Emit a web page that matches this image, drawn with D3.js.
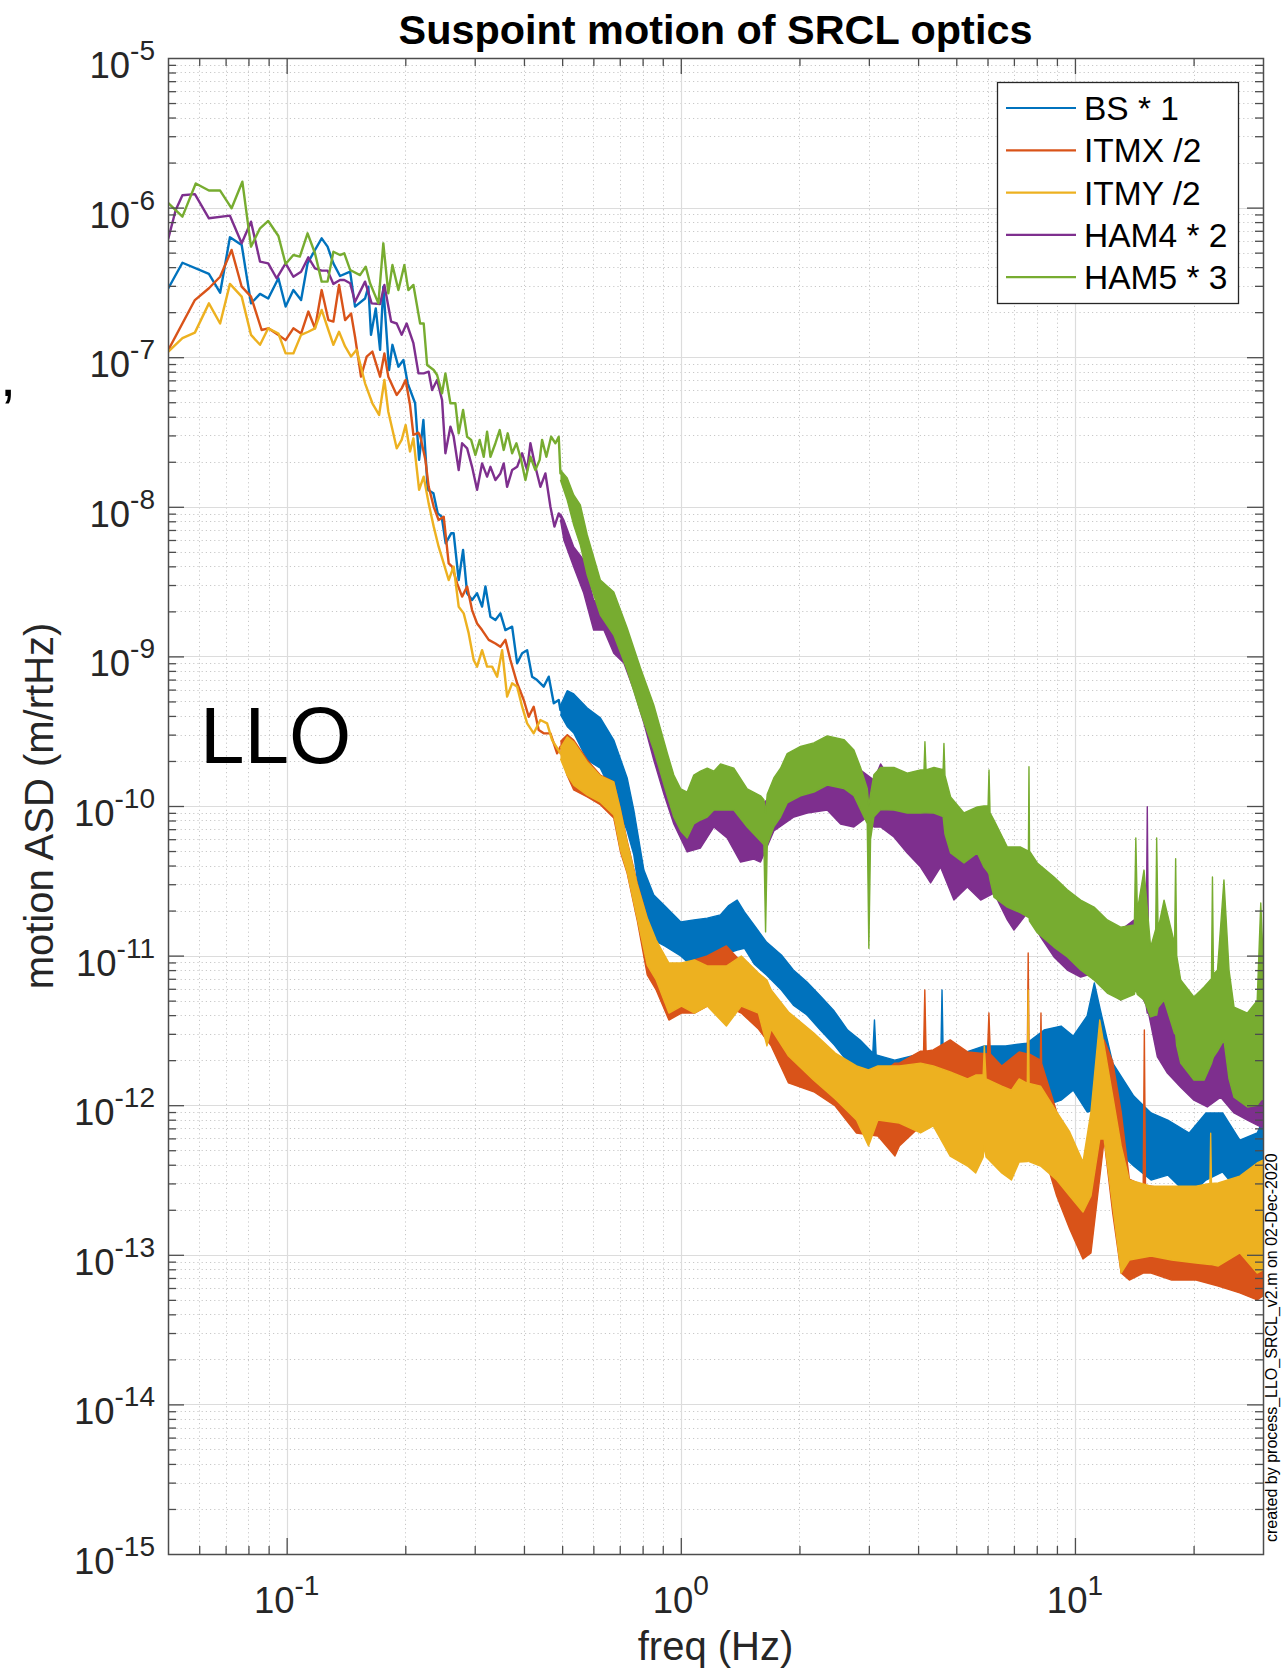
<!DOCTYPE html>
<html>
<head>
<meta charset="utf-8">
<title>Suspoint motion of SRCL optics</title>
<script src="https://cdn.jsdelivr.net/npm/d3@7/dist/d3.min.js"></script>
<style>
  html, body { margin: 0; padding: 0; background: #ffffff; }
  svg { display: block; }
  text { font-family: "Liberation Sans", Arial, Helvetica, sans-serif; }
</style>
</head>
<body>
<svg id="chart" width="1285" height="1674"></svg>
<script>
// ---------------- data ----------------
const freqDomain = [0.05, 30];       // Hz
const asdDomain = [1e-15, 1e-5];     // m/rtHz
const xDecadeTicks = [0.1, 1, 10];
const yDecadeTicks = [1e-15, 1e-14, 1e-13, 1e-12, 1e-11, 1e-10, 1e-9, 1e-8, 1e-7, 1e-6, 1e-5];
const seriesLabels = ["BS * 1", "ITMX /2", "ITMY /2", "HAM4 * 2", "HAM5 * 3"];

// resolved low-frequency bins: [freq Hz, ASD]
const bsTrace = [[0.0501,2.89e-7],[0.0544,4.28e-7],[0.0635,3.60e-7],[0.0678,2.70e-7],[0.0718,6.33e-7],[0.0769,5.62e-7],[0.0812,2.29e-7],[0.0856,2.65e-7],[0.0898,2.47e-7],[0.0953,3.37e-7],[0.0994,2.18e-7],[0.104,2.81e-7],[0.1088,2.41e-7],[0.113,4.24e-7],[0.118,5.21e-7],[0.1227,6.23e-7],[0.127,5.48e-7],[0.1314,4.24e-7],[0.1366,3.49e-7],[0.1449,3.73e-7],[0.1491,2.18e-7],[0.1581,2.47e-7],[0.1612,2.96e-7],[0.1637,1.41e-7],[0.1683,2.12e-7],[0.1726,1.12e-7],[0.1759,2.96e-7],[0.1819,8.21e-8],[0.1855,1.21e-7],[0.1921,8.64e-8],[0.1978,9.58e-8],[0.2028,6.69e-8],[0.2118,4.92e-8],[0.2168,2.06e-8],[0.2223,3.80e-8],[0.228,1.30e-8],[0.2357,1.23e-8],[0.2417,9.04e-9],[0.2474,8.59e-9],[0.2532,5.70e-9],[0.2614,6.65e-9],[0.2653,6.65e-9],[0.2732,3.24e-9],[0.2803,5.14e-9],[0.287,2.64e-9],[0.2954,2.38e-9],[0.3042,2.64e-9],[0.3132,2.15e-9],[0.3194,2.93e-9],[0.3289,1.84e-9],[0.3386,1.75e-9],[0.3486,1.94e-9],[0.3589,1.50e-9],[0.3733,1.58e-9],[0.3844,8.99e-10],[0.3958,1.05e-9],[0.4075,1.10e-9],[0.4195,7.32e-10],[0.4319,6.95e-10],[0.4489,6.28e-10],[0.4623,7.32e-10],[0.4761,4.86e-10],[0.4901,5.11e-10],[0.495,4.38e-10]];

const itmxTrace = [[0.0501,1.12e-7],[0.0585,2.41e-7],[0.0635,2.89e-7],[0.0678,3.45e-7],[0.0725,5.21e-7],[0.0769,2.96e-7],[0.0812,2.54e-7],[0.0864,1.52e-7],[0.0898,1.56e-7],[0.0953,1.41e-7],[0.0994,1.30e-7],[0.104,1.56e-7],[0.1088,1.44e-7],[0.1135,2.02e-7],[0.118,1.56e-7],[0.1227,2.81e-7],[0.1276,1.77e-7],[0.1314,1.73e-7],[0.1358,3.04e-7],[0.1407,1.77e-7],[0.1457,1.96e-7],[0.1491,1.37e-7],[0.1544,7.41e-8],[0.1596,1.01e-7],[0.165,1.09e-7],[0.1726,7.41e-8],[0.177,1.06e-7],[0.1811,7.41e-8],[0.1902,5.59e-8],[0.1958,6.19e-8],[0.2004,7.04e-8],[0.2056,4.79e-8],[0.2097,3.02e-8],[0.216,3.13e-8],[0.2184,2.94e-8],[0.2249,2.06e-8],[0.2293,1.36e-8],[0.2361,1.00e-8],[0.243,8.16e-9],[0.2503,8.59e-9],[0.2577,4.19e-9],[0.2629,3.98e-9],[0.2707,3.08e-9],[0.2787,2.51e-9],[0.287,2.93e-9],[0.2954,2.04e-9],[0.3042,1.66e-9],[0.3132,1.50e-9],[0.3256,1.29e-9],[0.3386,1.22e-9],[0.3486,1.16e-9],[0.3589,1.29e-9],[0.3696,9.46e-10],[0.3844,6.61e-10],[0.3995,5.11e-10],[0.4113,3.95e-10],[0.4234,4.61e-10],[0.436,3.22e-10],[0.4489,3.06e-10],[0.4669,3.06e-10],[0.4856,2.25e-10],[0.495,2.49e-10]];

const itmyTrace = [[0.0501,1.09e-7],[0.0544,1.34e-7],[0.0585,1.46e-7],[0.0635,2.29e-7],[0.0678,1.68e-7],[0.0718,3.09e-7],[0.0769,2.54e-7],[0.0812,1.41e-7],[0.0856,1.21e-7],[0.0898,1.56e-7],[0.0953,1.44e-7],[0.0994,1.06e-7],[0.104,1.06e-7],[0.1088,1.41e-7],[0.1135,1.48e-7],[0.118,1.56e-7],[0.1227,2.07e-7],[0.1276,1.52e-7],[0.1314,1.21e-7],[0.1358,1.48e-7],[0.1407,1.18e-7],[0.1457,1.01e-7],[0.1505,1.12e-7],[0.1581,6.69e-8],[0.165,4.92e-8],[0.1716,4.11e-8],[0.177,7.04e-8],[0.1811,4.32e-8],[0.1902,2.46e-8],[0.1958,2.80e-8],[0.2004,3.52e-8],[0.2056,2.34e-8],[0.2097,2.87e-8],[0.2168,1.30e-8],[0.2227,1.59e-8],[0.2293,1.05e-8],[0.2361,7.37e-9],[0.243,5.41e-9],[0.2503,4.19e-9],[0.2577,3.24e-9],[0.2653,3.98e-9],[0.2732,2.15e-9],[0.2813,1.94e-9],[0.2896,1.43e-9],[0.2982,9.46e-10],[0.3042,8.54e-10],[0.3132,1.10e-9],[0.3225,8.54e-10],[0.3321,8.54e-10],[0.342,7.32e-10],[0.3521,1.10e-9],[0.3625,5.38e-10],[0.3733,6.61e-10],[0.3844,6.28e-10],[0.3958,4.61e-10],[0.4075,3.57e-10],[0.4234,3.06e-10],[0.4403,3.76e-10],[0.4579,3.57e-10],[0.4716,2.76e-10],[0.495,2.25e-10]];

const ham4Trace = [[0.0501,6.23e-7],[0.0523,9.64e-7],[0.0544,1.21e-6],[0.0585,1.23e-6],[0.0635,8.48e-7],[0.0718,8.83e-7],[0.0769,5.77e-7],[0.0812,8.05e-7],[0.0856,4.35e-7],[0.0898,4.24e-7],[0.0943,3.37e-7],[0.0994,4.24e-7],[0.104,3.45e-7],[0.1088,3.73e-7],[0.1135,4.65e-7],[0.118,3.93e-7],[0.1227,3.79e-7],[0.127,3.79e-7],[0.1314,3.09e-7],[0.1366,3.28e-7],[0.140,3.28e-7],[0.1449,3.12e-7],[0.1491,2.35e-7],[0.1581,3.20e-7],[0.1643,2.29e-7],[0.1726,2.27e-7],[0.177,3.04e-7],[0.1841,1.73e-7],[0.1902,1.68e-7],[0.1958,1.41e-7],[0.2016,1.68e-7],[0.2097,1.24e-7],[0.216,7.80e-8],[0.2227,7.80e-8],[0.2293,8.00e-8],[0.2339,6.04e-8],[0.2408,7.04e-8],[0.2479,5.18e-8],[0.2528,2.28e-8],[0.2603,3.43e-8],[0.2653,2.94e-8],[0.2732,1.76e-8],[0.2787,2.66e-8],[0.287,2.46e-8],[0.2954,1.85e-8],[0.3042,1.30e-8],[0.3132,1.95e-8],[0.3225,1.59e-8],[0.3289,1.85e-8],[0.3386,1.51e-8],[0.3486,1.67e-8],[0.3554,1.95e-8],[0.3625,1.36e-8],[0.3733,1.76e-8],[0.3844,1.85e-8],[0.3958,2.28e-8],[0.4075,1.76e-8],[0.4154,2.66e-8],[0.4276,1.85e-8],[0.4403,1.36e-8],[0.4534,1.67e-8],[0.4669,1.00e-8],[0.478,7.37e-9],[0.4901,9.04e-9],[0.495,8.59e-9]];

const ham5Trace = [[0.0501,1.07e-6],[0.0544,8.70e-7],[0.0588,1.45e-6],[0.0635,1.30e-6],[0.0678,1.30e-6],[0.0725,9.89e-7],[0.0772,1.49e-6],[0.0812,5.48e-7],[0.0856,7.27e-7],[0.0898,8.14e-7],[0.0953,6.46e-7],[0.0994,4.20e-7],[0.104,4.82e-7],[0.108,4.70e-7],[0.113,6.73e-7],[0.118,4.95e-7],[0.1227,3.20e-7],[0.127,3.20e-7],[0.1314,5.07e-7],[0.1366,4.82e-7],[0.140,4.95e-7],[0.1449,3.83e-7],[0.1535,3.54e-7],[0.1587,4.03e-7],[0.1628,3.12e-7],[0.1709,2.29e-7],[0.1759,5.77e-7],[0.1811,2.67e-7],[0.1855,4.13e-7],[0.1921,2.81e-7],[0.1989,4.13e-7],[0.2036,2.81e-7],[0.2097,3.04e-7],[0.2181,1.68e-7],[0.2227,1.68e-7],[0.2272,8.87e-8],[0.2361,8.21e-8],[0.2408,7.60e-8],[0.2479,5.73e-8],[0.2528,7.80e-8],[0.2603,4.92e-8],[0.268,4.92e-8],[0.2732,3.10e-8],[0.2803,4.44e-8],[0.287,2.94e-8],[0.2938,2.80e-8],[0.3012,2.22e-8],[0.3089,2.80e-8],[0.3162,2.16e-8],[0.3225,3.18e-8],[0.3289,2.16e-8],[0.3386,2.66e-8],[0.3472,3.26e-8],[0.3554,2.40e-8],[0.3638,3.10e-8],[0.3733,2.28e-8],[0.3828,2.66e-8],[0.3934,2.06e-8],[0.4035,1.51e-8],[0.4154,2.16e-8],[0.4276,1.76e-8],[0.4385,2.06e-8],[0.4447,2.80e-8],[0.456,2.16e-8],[0.4688,2.94e-8],[0.4808,2.66e-8],[0.4901,2.94e-8],[0.495,1.67e-8]];

// dense spectrum above 0.5 Hz: [freq Hz, upper ASD, lower ASD]
const bsBand = [[0.495,4.7e-10,4.1e-10],[0.515,5.9e-10,3.4e-10],[0.535,5.61e-10,3.08e-10],[0.579,4.52e-10,2.03e-10],[0.625,3.88e-10,1.79e-10],[0.676,2.76e-10,1.17e-10],[0.731,1.54e-10,6.81e-11],[0.760,9.40e-11,4.71e-11],[0.806,3.73e-11,1.60e-11],[0.854,2.54e-11,1.27e-11],[0.91,2.15e-11,1.16e-11],[1.0,1.68e-11,9.94e-12],[1.08,1.73e-11,8.26e-12],[1.167,1.78e-11,9.35e-12],[1.26,1.87e-11,1.01e-11],[1.32,2.15e-11,1.04e-11],[1.39,2.35e-11,1.09e-11],[1.45,1.96e-11,1.12e-11],[1.535,1.60e-11,8.79e-12],[1.65,1.23e-11,7.42e-12],[1.80,1.01e-11,5.89e-12],[1.93,8.01e-12,4.67e-12],[2.09,6.66e-12,4.01e-12],[2.26,5.37e-12,3.18e-12],[2.45,4.26e-12,2.53e-12],[2.65,3.18e-12,1.95e-12],[2.85,2.73e-12,1.67e-12],[3.07,2.23e-12,1.41e-12],[3.10,3.71e-12,1.41e-12],[3.13,2.17e-12,1.41e-12],[3.49,2.00e-12,1.30e-12],[3.95,2.17e-12,1.26e-12],[4.57,2.27e-12,1.30e-12],[4.60,5.89e-12,1.30e-12],[4.63,2.27e-12,1.36e-12],[5.2,2.23e-12,1.21e-12],[5.89,2.49e-12,1.30e-12],[6.67,2.49e-12,1.36e-12],[7.56,2.60e-12,1.26e-12],[8.35,3.18e-12,9.88e-13],[9.22,3.38e-12,1.08e-12],[9.9,2.90e-12,1.26e-12],[10.74,3.95e-12,9.01e-13],[11.2,6.56e-12,9.29e-13],[11.6,4.33e-12,7.96e-13],[12.47,1.91e-12,5.34e-13],[14.1,1.15e-12,3.92e-13],[15.6,8.87e-13,3.16e-13],[17.2,7.96e-13,3.41e-13],[19.5,6.52e-13,2.47e-13],[21.5,8.87e-13,3.16e-13],[23.7,8.87e-13,3.58e-13],[26.2,5.85e-13,2.59e-13],[29.0,6.52e-13,3.16e-13],[30,7.96e-13,3.16e-13]];

const itmxBand = [[0.495,2.7e-10,2.3e-10],[0.515,3.0e-10,1.6e-10],[0.535,2.76e-10,1.28e-10],[0.579,2.03e-10,1.15e-10],[0.625,1.61e-10,1.02e-10],[0.676,1.45e-10,8.32e-11],[0.703,9.40e-11,4.93e-11],[0.731,5.83e-11,3.56e-11],[0.775,3.06e-11,1.73e-11],[0.822,1.78e-11,7.42e-12],[0.866,1.14e-11,5.89e-12],[0.933,8.52e-12,3.71e-12],[1.004,8.52e-12,4.13e-12],[1.083,9.35e-12,4.13e-12],[1.167,9.94e-12,4.60e-12],[1.305,1.16e-11,4.60e-12],[1.424,9.06e-12,4.13e-12],[1.574,6.98e-12,3.23e-12],[1.696,5.37e-12,2.49e-12],[1.876,3.95e-12,1.41e-12],[2.175,2.73e-12,1.23e-12],[2.465,2.04e-12,9.88e-13],[2.791,1.64e-12,6.52e-13],[3.163,1.57e-12,6.22e-13],[3.494,1.91e-12,4.57e-13],[3.585,1.91e-12,5.34e-13],[4.058,2.30e-12,7.26e-13],[4.13,2.30e-12,7.26e-13],[4.16,5.89e-12,7.26e-13],[4.19,2.30e-12,7.26e-13],[4.37,2.34e-12,7.96e-13],[4.825,2.73e-12,7.96e-13],[5.34,2.27e-12,6.52e-13],[6.0,2.20e-12,7.00e-13],[6.05,4.13e-12,8.87e-13],[6.1,2.20e-12,7.00e-13],[6.52,1.83e-12,5.94e-13],[7.22,2.27e-12,5.34e-13],[7.57,2.20e-12,5.34e-13],[7.61,1.04e-11,5.34e-13],[7.65,2.20e-12,5.34e-13],[8.17,2.00e-12,5.34e-13],[8.2,4.13e-12,5.34e-13],[8.23,1.90e-12,5.34e-13],[8.99,9.01e-13,2.47e-13],[9.7,5.94e-13,1.49e-13],[10.48,3.21e-13,9.37e-14],[10.98,5.34e-13,1.03e-13],[11.86,2.73e-12,5.85e-13],[12.47,1.95e-12,1.90e-13],[13.1,9.01e-13,7.55e-14],[13.74,3.21e-13,6.78e-14],[14.9,2.90e-13,7.55e-14],[15.0,3.18e-12,7.55e-14],[15.1,2.90e-13,7.55e-14],[15.6,2.88e-13,7.55e-14],[17.6,2.75e-13,6.78e-14],[20.3,2.59e-13,6.78e-14],[23.1,2.47e-13,6.19e-14],[26.2,2.47e-13,5.56e-14],[29.0,3.21e-13,4.99e-14],[30,3.69e-13,5.31e-14]];

const itmyBand = [[0.495,2.45e-10,2.07e-10],[0.515,2.9e-10,1.6e-10],[0.535,2.68e-10,1.38e-10],[0.579,1.97e-10,1.18e-10],[0.625,1.59e-10,1.06e-10],[0.676,1.45e-10,8.71e-11],[0.703,9.40e-11,5.08e-11],[0.731,5.74e-11,3.62e-11],[0.775,3.01e-11,1.78e-11],[0.822,1.78e-11,8.65e-12],[0.866,1.27e-11,6.87e-12],[0.933,8.92e-12,4.13e-12],[1.004,8.92e-12,4.60e-12],[1.083,9.35e-12,4.13e-12],[1.167,8.52e-12,4.60e-12],[1.305,8.52e-12,3.38e-12],[1.424,9.94e-12,4.60e-12],[1.574,7.65e-12,4.13e-12],[1.654,6.87e-12,2.49e-12],[1.696,5.89e-12,3.23e-12],[1.876,4.20e-12,2.13e-12],[2.175,3.04e-12,1.47e-12],[2.465,2.23e-12,1.10e-12],[2.791,1.83e-12,7.96e-13],[2.994,1.72e-12,5.34e-13],[3.163,1.83e-12,7.96e-13],[3.585,1.83e-12,7.60e-13],[4.058,1.91e-12,6.52e-13],[4.37,1.83e-12,7.26e-13],[4.825,1.67e-12,4.57e-13],[5.34,1.50e-12,3.92e-13],[5.6,1.59e-12,3.52e-13],[5.85,1.60e-12,4.50e-13],[5.89,2.49e-12,5.34e-13],[5.95,1.50e-12,4.50e-13],[6.52,1.34e-12,3.52e-13],[6.9,1.26e-12,3.16e-13],[7.22,1.50e-12,4.17e-13],[7.57,1.40e-12,4.20e-13],[7.61,5.89e-12,4.30e-13],[7.65,1.40e-12,4.20e-13],[8.18,1.34e-12,3.92e-13],[8.99,9.01e-13,3.16e-13],[9.7,6.62e-13,2.47e-13],[10.48,4.17e-13,1.93e-13],[10.98,9.01e-13,2.47e-13],[11.56,3.71e-12,5.94e-13],[11.86,2.49e-12,5.94e-13],[12.47,1.15e-12,2.12e-13],[13.1,5.34e-13,7.55e-14],[13.74,3.16e-13,9.23e-14],[15.6,2.88e-13,9.82e-14],[17.6,2.88e-13,9.23e-14],[20.3,2.88e-13,8.82e-14],[22.0,3.00e-13,8.60e-14],[22.1,6.50e-13,8.60e-14],[22.2,3.00e-13,8.60e-14],[23.1,3.02e-13,8.42e-14],[26.2,3.36e-13,1.03e-13],[29.0,4.11e-13,7.55e-14],[30,4.30e-13,7.91e-14]];

const ham4Band = [[0.495,9.0e-9,8.2e-9],[0.505,8.16e-9,6.00e-9],[0.535,5.39e-9,3.96e-9],[0.567,4.41e-9,2.65e-9],[0.601,2.38e-9,1.50e-9],[0.638,2.14e-9,1.50e-9],[0.676,1.43e-9,1.05e-9],[0.717,1.16e-9,9.03e-10],[0.760,8.49e-10,5.96e-10],[0.806,6.25e-10,3.59e-10],[0.854,3.76e-10,2.03e-10],[0.906,2.48e-10,1.20e-10],[0.960,1.28e-10,7.58e-11],[1.038,1.10e-10,4.93e-11],[1.122,1.28e-10,5.24e-11],[1.213,1.38e-10,7.24e-11],[1.311,1.38e-10,6.11e-11],[1.418,1.18e-10,4.22e-11],[1.532,1.10e-10,4.42e-11],[1.593,1.02e-10,4.22e-11],[1.722,1.18e-10,6.81e-11],[1.936,1.61e-10,8.44e-11],[2.093,1.88e-10,8.98e-11],[2.352,2.03e-10,9.40e-11],[2.543,2.03e-10,7.58e-11],[2.749,1.88e-10,7.24e-11],[2.972,1.61e-10,8.44e-11],[3.09,1.49e-10,7.24e-11],[3.213,1.91e-10,7.24e-11],[3.473,1.38e-10,6.21e-11],[3.755,1.28e-10,4.85e-11],[4.058,1.28e-10,3.91e-11],[4.303,1.10e-10,3.06e-11],[4.56,1.28e-10,3.91e-11],[4.931,8.06e-11,2.35e-11],[5.333,7.46e-11,2.87e-11],[5.765,6.91e-11,2.35e-11],[6.23,6.40e-11,2.62e-11],[6.737,4.71e-11,1.73e-11],[7.003,4.36e-11,1.48e-11],[7.572,4.36e-11,1.93e-11],[8.185,3.73e-11,1.33e-11],[8.847,2.96e-11,9.79e-12],[9.565,2.54e-11,8.01e-12],[10.34,2.18e-11,7.19e-12],[11.18,2.02e-11,7.65e-12],[12.08,1.60e-11,5.89e-12],[13.06,1.48e-11,5.05e-12],[14.12,1.73e-11,6.87e-12],[15.15,9.35e-12,4.67e-12],[15.26,9.89e-11,4.13e-12],[15.37,9.35e-12,4.13e-12],[16.19,9.35e-12,2.10e-12],[17.16,6.87e-12,1.64e-12],[18.55,5.89e-12,1.32e-12],[20.04,5.05e-12,1.08e-12],[21.67,4.33e-12,9.73e-13],[23.43,5.05e-12,1.13e-12],[25.33,3.18e-12,8.87e-13],[27.39,2.73e-12,7.96e-13],[29.61,2.34e-12,7.15e-13],[30,2.34e-12,7.15e-13]];

const ham5Band = [[0.495,1.76e-8,1.51e-8],[0.515,1.56e-8,1.11e-8],[0.535,1.20e-8,7.55e-9],[0.556,1.03e-8,5.55e-9],[0.579,6.48e-9,3.50e-9],[0.625,3.24e-9,1.89e-9],[0.676,2.69e-9,1.39e-9],[0.731,1.55e-9,8.11e-10],[0.790,8.37e-10,4.25e-10],[0.854,4.73e-10,2.37e-10],[0.924,2.26e-10,1.17e-10],[0.960,1.61e-10,8.44e-11],[1.0,1.30e-10,6.81e-11],[1.038,1.24e-10,6.11e-11],[1.079,1.61e-10,7.58e-11],[1.122,1.71e-10,8.06e-11],[1.167,1.79e-10,8.44e-11],[1.213,1.71e-10,9.40e-11],[1.261,1.91e-10,9.40e-11],[1.363,1.79e-10,9.40e-11],[1.474,1.30e-10,7.24e-11],[1.593,1.17e-10,5.83e-11],[1.625,1.10e-10,5.50e-11],[1.641,9.00e-11,1.44e-11],[1.657,1.20e-10,5.50e-11],[1.722,1.54e-10,7.24e-11],[1.791,1.79e-10,8.44e-11],[1.862,2.24e-10,1.05e-10],[2.013,2.50e-10,1.17e-10],[2.176,2.64e-10,1.24e-10],[2.352,2.94e-10,1.38e-10],[2.593,2.78e-10,1.31e-10],[2.749,2.37e-10,1.17e-10],[2.858,1.81e-10,9.46e-11],[2.972,1.31e-10,7.62e-11],[3.00,1.00e-10,1.12e-11],[3.03,1.20e-10,6.00e-11],[3.09,1.62e-10,8.48e-11],[3.213,1.81e-10,9.46e-11],[3.473,1.81e-10,9.40e-11],[3.755,1.66e-10,8.98e-11],[4.058,1.74e-10,8.98e-11],[4.14,1.74e-10,9.00e-11],[4.163,2.69e-10,9.00e-11],[4.19,1.74e-10,9.00e-11],[4.388,1.81e-10,8.98e-11],[4.63,1.75e-10,8.50e-11],[4.652,2.62e-10,7.50e-11],[4.68,1.60e-10,6.50e-11],[4.837,1.15e-10,4.85e-11],[5.229,8.98e-11,4.16e-11],[5.653,9.85e-11,4.85e-11],[5.878,1.00e-10,3.90e-11],[6.02,1.00e-10,3.60e-11],[6.053,1.74e-10,3.50e-11],[6.09,9.00e-11,3.20e-11],[6.23,8.06e-11,2.46e-11],[6.737,5.32e-11,2.11e-11],[7.282,5.32e-11,1.93e-11],[7.62,5.00e-11,1.80e-11],[7.645,1.83e-10,1.80e-11],[7.67,5.00e-11,1.70e-11],[8.025,4.16e-11,1.42e-11],[8.847,3.35e-11,1.14e-11],[9.565,2.75e-11,9.79e-12],[10.34,2.35e-11,8.01e-12],[11.18,2.11e-11,6.87e-12],[12.08,1.73e-11,5.62e-12],[13.06,1.55e-11,5.05e-12],[14.15,1.60e-11,5.50e-12],[14.27,6.11e-11,6.00e-12],[14.4,2.00e-11,5.50e-12],[14.97,3.73e-11,5.05e-12],[15.56,1.14e-11,3.89e-12],[16.03,1.50e-11,4.00e-12],[16.12,6.11e-11,4.00e-12],[16.25,1.50e-11,4.50e-12],[16.83,2.35e-11,5.05e-12],[17.9,1.20e-11,3.00e-12],[18.01,4.44e-11,3.00e-12],[18.12,1.00e-11,2.50e-12],[18.55,6.87e-12,1.91e-12],[20.04,5.29e-12,1.47e-12],[21.26,6.17e-12,1.47e-12],[22.2,7.00e-12,1.90e-12],[22.33,3.35e-11,2.00e-12],[22.46,7.50e-12,2.10e-12],[23.0,8.00e-12,2.30e-12],[23.88,3.20e-11,2.73e-12],[24.6,8.00e-12,1.50e-12],[25.33,4.53e-12,1.13e-12],[27.39,4.13e-12,9.73e-13],[29.0,5.00e-12,1.00e-12],[29.61,2.25e-11,1.08e-12],[30,1.00e-11,1.10e-12]];

// ---------------- layout & style ----------------
const W = 1285, H = 1674;
const plot = { left: 168, right: 1263, top: 58, bottom: 1554 };
const seriesColors = ["#0072BD", "#D95319", "#EDB120", "#7E2F8E", "#77AC30"];
const axisColor = "#262626";
const frameColor = "#4d4d4d";

const series = [
  { label: seriesLabels[0], trace: bsTrace,   band: bsBand,   color: seriesColors[0] },
  { label: seriesLabels[1], trace: itmxTrace, band: itmxBand, color: seriesColors[1] },
  { label: seriesLabels[2], trace: itmyTrace, band: itmyBand, color: seriesColors[2] },
  { label: seriesLabels[3], trace: ham4Trace, band: ham4Band, color: seriesColors[3] },
  { label: seriesLabels[4], trace: ham5Trace, band: ham5Band, color: seriesColors[4] }
];

const svg = d3.select("#chart");
svg.append("rect").attr("width", W).attr("height", H).attr("fill", "#ffffff");

const x = d3.scaleLog().domain(freqDomain).range([plot.left, plot.right]);
const y = d3.scaleLog().domain(asdDomain).range([plot.bottom, plot.top]);

// sub-decade tick positions 2..9 within each decade of a domain
function minorTicks(domain) {
  const out = [];
  const lo = Math.floor(Math.log10(domain[0]) + 1e-9);
  const hi = Math.ceil(Math.log10(domain[1]) - 1e-9);
  for (let e = lo; e < hi; e++) {
    for (let k = 2; k <= 9; k++) {
      const v = k * Math.pow(10, e);
      if (v > domain[0] * 1.0001 && v < domain[1] * 0.9999) out.push(v);
    }
  }
  return out;
}
const xMinor = minorTicks(freqDomain);
const yMinor = minorTicks(asdDomain);
const yMajorInner = yDecadeTicks.filter(v => v > asdDomain[0] && v < asdDomain[1]);

// ---------------- grid ----------------
const grid = svg.append("g").attr("class", "grid");
const px = v => Math.round(v) + 0.5;
grid.selectAll("line.gx-minor").data(xMinor).join("line")
  .attr("x1", d => px(x(d))).attr("x2", d => px(x(d)))
  .attr("y1", plot.top).attr("y2", plot.bottom)
  .attr("stroke", "#c8c8c8").attr("stroke-width", 1).attr("stroke-dasharray", "1.2,3");
grid.selectAll("line.gy-minor").data(yMinor).join("line")
  .attr("y1", d => px(y(d))).attr("y2", d => px(y(d)))
  .attr("x1", plot.left).attr("x2", plot.right)
  .attr("stroke", "#c8c8c8").attr("stroke-width", 1).attr("stroke-dasharray", "1.2,3");
grid.selectAll("line.gx-major").data(xDecadeTicks).join("line")
  .attr("x1", d => px(x(d))).attr("x2", d => px(x(d)))
  .attr("y1", plot.top).attr("y2", plot.bottom)
  .attr("stroke", "#dcdcdc").attr("stroke-width", 1.2);
grid.selectAll("line.gy-major").data(yMajorInner).join("line")
  .attr("y1", d => px(y(d))).attr("y2", d => px(y(d)))
  .attr("x1", plot.left).attr("x2", plot.right)
  .attr("stroke", "#dcdcdc").attr("stroke-width", 1.2);

// ---------------- spectra ----------------
svg.append("clipPath").attr("id", "plot-clip")
  .append("rect")
  .attr("x", plot.left).attr("y", plot.top)
  .attr("width", plot.right - plot.left).attr("height", plot.bottom - plot.top);

const traceLine = d3.line().x(d => x(d[0])).y(d => y(d[1]));
const bandArea = d3.area().x(d => x(d[0])).y0(d => y(d[2])).y1(d => y(d[1]));
const bandTop = d3.line().x(d => x(d[0])).y(d => y(d[1]));
const bandBottom = d3.line().x(d => x(d[0])).y(d => y(d[2]));

const dataLayer = svg.append("g").attr("clip-path", "url(#plot-clip)");
series.forEach(s => {
  const g = dataLayer.append("g");
  g.append("path").datum(s.band).attr("d", bandArea)
    .attr("fill", s.color).attr("stroke", "none");
  g.append("path").datum(s.band).attr("d", bandTop)
    .attr("fill", "none").attr("stroke", s.color).attr("stroke-width", 1.4).attr("stroke-linejoin", "round");
  g.append("path").datum(s.band).attr("d", bandBottom)
    .attr("fill", "none").attr("stroke", s.color).attr("stroke-width", 1.4).attr("stroke-linejoin", "round");
  g.append("path").datum(s.trace).attr("d", traceLine)
    .attr("fill", "none").attr("stroke", s.color).attr("stroke-width", 2.4)
    .attr("stroke-linejoin", "round").attr("stroke-linecap", "round");
});

// ---------------- axes ----------------
function tickLayer(axis, transform) {
  const g = svg.append("g").attr("transform", transform).call(axis);
  g.select(".domain").remove();
  g.selectAll(".tick line").attr("stroke", frameColor).attr("stroke-width", 1.3);
  g.selectAll(".tick text").remove();
  return g;
}
const minorLen = -8, majorLen = -16;
tickLayer(d3.axisBottom(x).tickValues(xMinor).tickSize(minorLen).tickFormat(""), `translate(0,${plot.bottom})`);
tickLayer(d3.axisBottom(x).tickValues(xDecadeTicks).tickSize(majorLen).tickFormat(""), `translate(0,${plot.bottom})`);
tickLayer(d3.axisTop(x).tickValues(xMinor).tickSize(minorLen).tickFormat(""), `translate(0,${plot.top})`);
tickLayer(d3.axisTop(x).tickValues(xDecadeTicks).tickSize(majorLen).tickFormat(""), `translate(0,${plot.top})`);
tickLayer(d3.axisLeft(y).tickValues(yMinor).tickSize(minorLen).tickFormat(""), `translate(${plot.left},0)`);
tickLayer(d3.axisLeft(y).tickValues(yMajorInner).tickSize(majorLen).tickFormat(""), `translate(${plot.left},0)`);
tickLayer(d3.axisRight(y).tickValues(yMinor).tickSize(minorLen).tickFormat(""), `translate(${plot.right},0)`);
tickLayer(d3.axisRight(y).tickValues(yMajorInner).tickSize(majorLen).tickFormat(""), `translate(${plot.right},0)`);

svg.append("rect")
  .attr("x", plot.left + 0.5).attr("y", plot.top + 0.5)
  .attr("width", plot.right - plot.left).attr("height", plot.bottom - plot.top)
  .attr("fill", "none").attr("stroke", frameColor).attr("stroke-width", 1.5);

// power-of-ten tick labels
const exponent = v => String(Math.round(Math.log10(v)));
const yLabels = svg.append("g");
yDecadeTicks.forEach(v => {
  const t = yLabels.append("text")
    .attr("x", 155).attr("y", y(v) + 20)
    .attr("text-anchor", "end").attr("fill", axisColor).attr("font-size", 36.5);
  t.append("tspan").text("10");
  t.append("tspan").attr("dy", -18).attr("font-size", 28).text(exponent(v));
});
const xLabels = svg.append("g");
xDecadeTicks.forEach(v => {
  const t = xLabels.append("text")
    .attr("x", x(v)).attr("y", plot.bottom + 59)
    .attr("text-anchor", "middle").attr("fill", axisColor).attr("font-size", 36.5);
  t.append("tspan").text("10");
  t.append("tspan").attr("dy", -18).attr("font-size", 28).text(exponent(v));
});

// axis titles and headline
const midX = (plot.left + plot.right) / 2;
const midY = (plot.top + plot.bottom) / 2;
svg.append("text").attr("x", midX).attr("y", 44)
  .attr("text-anchor", "middle").attr("font-size", 41.4).attr("font-weight", "bold").attr("fill", "#000")
  .text("Suspoint motion of SRCL optics");
svg.append("text").attr("x", midX).attr("y", 1660)
  .attr("text-anchor", "middle").attr("font-size", 40).attr("fill", axisColor)
  .text("freq (Hz)");
svg.append("text").attr("transform", `translate(53,${midY}) rotate(-90)`)
  .attr("text-anchor", "middle").attr("font-size", 40).attr("fill", axisColor)
  .text("motion ASD (m/rtHz)");

// side stamp
svg.append("text").attr("transform", "translate(1277,1542) rotate(-90)")
  .attr("text-anchor", "start").attr("font-size", 16).attr("fill", "#000")
  .text("created by process_LLO_SRCL_v2.m on 02-Dec-2020");

// site tag
svg.append("text").attr("x", 200).attr("y", 763)
  .attr("font-family", "Lato, 'Open Sans', sans-serif").attr("font-size", 80).attr("fill", "#000")
  .text("LLO");
svg.append("text").attr("x", 0).attr("y", 396)
  .attr("font-family", "'Liberation Serif', serif").attr("font-size", 58).attr("fill", "#000")
  .text(",");

// ---------------- legend ----------------
const legend = { x: 997, y: 82, w: 241, h: 221, rowTop: 108, rowStep: 42.3 };
const lg = svg.append("g");
lg.append("rect").attr("x", legend.x + 0.5).attr("y", legend.y + 0.5)
  .attr("width", legend.w).attr("height", legend.h)
  .attr("fill", "#fff").attr("stroke", axisColor).attr("stroke-width", 1.3);
series.forEach((s, i) => {
  const ry = legend.rowTop + i * legend.rowStep;
  lg.append("line").attr("x1", 1006).attr("x2", 1076).attr("y1", ry).attr("y2", ry)
    .attr("stroke", s.color).attr("stroke-width", 2.2);
  lg.append("text").attr("x", 1084).attr("y", ry + 12)
    .attr("font-size", 33.5).attr("fill", "#000").text(s.label);
});
</script>
</body>
</html>
